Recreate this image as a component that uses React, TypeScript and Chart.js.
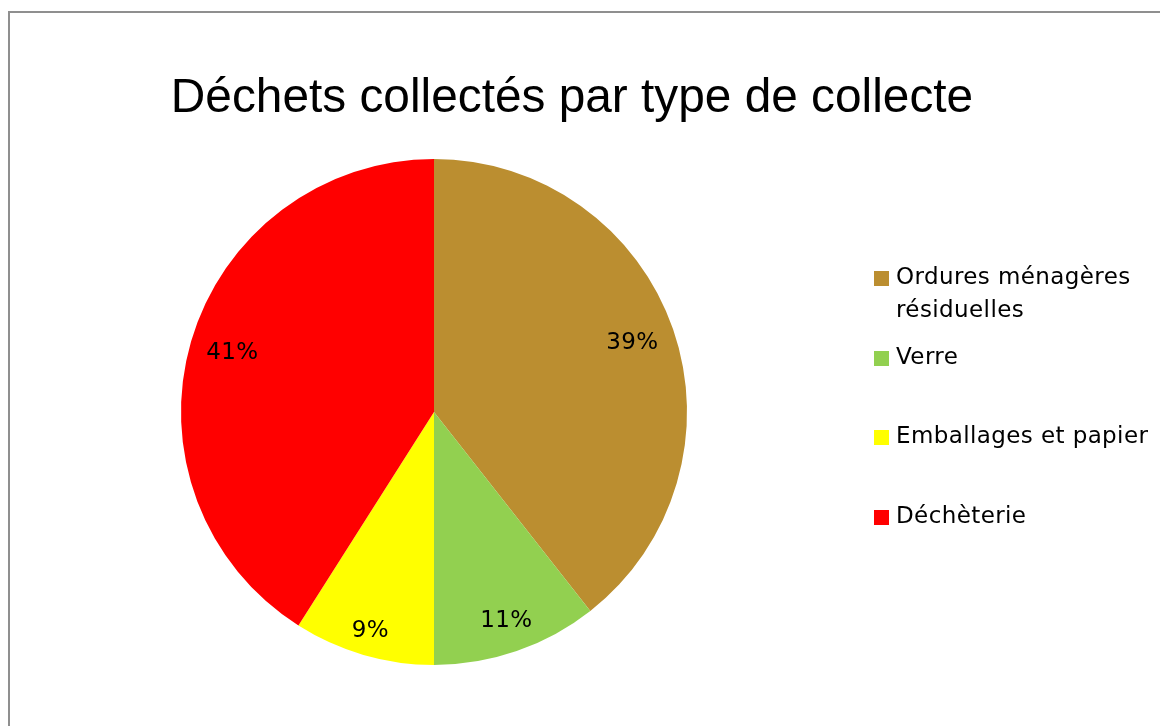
import React, { useEffect, useRef } from "react";
import { Chart, registerables } from "chart.js";

Chart.register(...registerables);

const titleText = "Déchets collectés par type de collecte";
const categories = ["Ordures ménagères résiduelles", "Verre", "Emballages et papier", "Déchèterie"];
const legendLines = [["Ordures ménagères", "résiduelles"], ["Verre"], ["Emballages et papier"], ["Déchèterie"]];
const values = [39.4, 10.6, 9.0, 41.0];
const colors = ["#BB8E30", "#92D050", "#FFFF00", "#FF0000"];
const labelRadiusFactor = [0.83, 0.875, 0.9, 0.83];

const LABEL_FONT = "23px 'DejaVu Sans', sans-serif";

const overlayPlugin = {
  id: "overlay",
  afterDraw(chart: any) {
    const ctx = chart.ctx;
    ctx.save();
    // title
    ctx.fillStyle = "#000";
    ctx.font = "47.8px 'Liberation Sans', Arial, sans-serif";
    ctx.textAlign = "center";
    ctx.textBaseline = "alphabetic";
    ctx.fillText(titleText, 572, 112);

    // percentage labels
    const meta = chart.getDatasetMeta(0);
    const total = values.reduce((a, b) => a + b, 0);
    ctx.font = LABEL_FONT;
    (ctx as any).letterSpacing = "0.4px";
    ctx.textBaseline = "middle";
    meta.data.forEach((arc: any, i: number) => {
      const p = arc.getProps(["x", "y", "startAngle", "endAngle", "outerRadius"], true);
      const mid = (p.startAngle + p.endAngle) / 2;
      const r = p.outerRadius * labelRadiusFactor[i];
      const x = p.x + Math.cos(mid) * r;
      const y = p.y + Math.sin(mid) * r;
      ctx.fillText(Math.round((values[i] / total) * 100) + "%", x, y);
    });

    // legend
    const rows = [278, 358, 437, 517];
    ctx.textAlign = "left";
    legendLines.forEach((lines, i) => {
      const y = rows[i];
      ctx.fillStyle = colors[i];
      ctx.fillRect(874, y - 7, 15, 15);
      ctx.fillStyle = "#000";
      lines.forEach((t, j) => ctx.fillText(t, 896, y + j * 33));
    });
    ctx.restore();
  },
};

export default function App() {
  const ref = useRef<HTMLCanvasElement>(null);
  useEffect(() => {
    if (!ref.current) return;
    const chart = new Chart(ref.current, {
      type: "pie",
      data: {
        labels: categories,
        datasets: [
          {
            data: values,
            backgroundColor: colors,
            borderWidth: 0,
          },
        ],
      },
      options: {
        animation: false,
        responsive: false,
        maintainAspectRatio: false,
        layout: { padding: { left: 181, right: 473, top: 159, bottom: 61 } },
        plugins: {
          legend: { display: false },
          title: { display: false },
          tooltip: { enabled: false },
        },
      },
      plugins: [overlayPlugin],
    });
    return () => chart.destroy();
  }, []);
  return (
    <div style={{ position: "absolute", left: 0, top: 0, width: 1160, height: 726, overflow: "hidden", background: "#fff" }}>
      <div
        style={{
          position: "absolute",
          left: 8,
          top: 11,
          width: 1160,
          height: 726,
          borderLeft: "2px solid #8f8f8f",
          borderTop: "2px solid #8f8f8f",
        }}
      />
      <canvas ref={ref} width={1160} height={726} style={{ position: "absolute", left: 0, top: 0 }} />
    </div>
  );
}
